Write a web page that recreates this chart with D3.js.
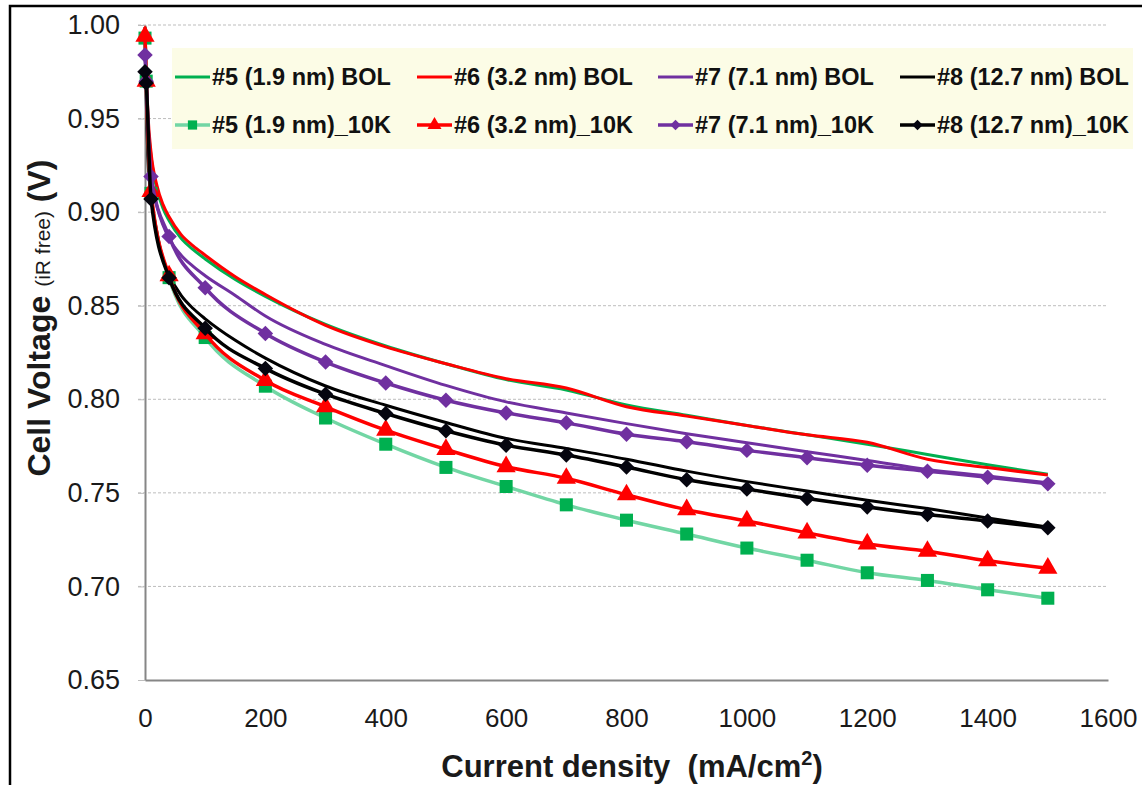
<!DOCTYPE html>
<html>
<head>
<meta charset="utf-8">
<script src="https://d3js.org/d3.v7.min.js"></script>
<style>
  body { margin: 0; background: #fff; }
  text { font-family: "Liberation Sans", Arial, sans-serif; }
</style>
</head>
<body>
<script>
// data

const currentBOL = [0, 5, 10, 20, 30, 40, 60, 80, 100, 150, 200, 300, 400, 500, 600, 700, 800, 900, 1000, 1100, 1200, 1300, 1400, 1500];
const v5BOL = [0.999, 0.949, 0.930, 0.912, 0.902, 0.8955, 0.886, 0.880, 0.875, 0.864, 0.855, 0.840, 0.8285, 0.819, 0.8105, 0.805, 0.797, 0.7915, 0.786, 0.781, 0.776, 0.7705, 0.765, 0.760];
const v6BOL = [0.999, 0.952, 0.932, 0.914, 0.904, 0.8975, 0.888, 0.882, 0.877, 0.8655, 0.856, 0.8395, 0.828, 0.819, 0.811, 0.806, 0.796, 0.791, 0.786, 0.781, 0.777, 0.768, 0.7635, 0.7595];
const v7BOL = [0.995, 0.940, 0.921, 0.903, 0.893, 0.886, 0.877, 0.871, 0.866, 0.8555, 0.8445, 0.8293, 0.818, 0.8074, 0.7986, 0.7927, 0.787, 0.7816, 0.7768, 0.772, 0.7673, 0.7625, 0.759, 0.7554];
const v8BOL = [0.990, 0.928, 0.909, 0.889, 0.8745, 0.8665, 0.8555, 0.8485, 0.843, 0.8315, 0.822, 0.8071, 0.7968, 0.7876, 0.7791, 0.7737, 0.768, 0.7616, 0.756, 0.751, 0.746, 0.7416, 0.7366, 0.7318];

const current10K = [0, 2, 10, 40, 100, 200, 300, 400, 500, 600, 700, 800, 900, 1000, 1100, 1200, 1300, 1400, 1500];
const v5_10K = [0.993, 0.970, 0.910, 0.865, 0.833, 0.807, 0.790, 0.776, 0.7636, 0.7534, 0.7436, 0.7354, 0.728, 0.7205, 0.714, 0.7073, 0.7032, 0.6982, 0.6937];
const v6_10K = [0.994, 0.970, 0.911, 0.866, 0.835, 0.810, 0.796, 0.7835, 0.7732, 0.764, 0.7578, 0.749, 0.741, 0.735, 0.7286, 0.7227, 0.7188, 0.7137, 0.7098];
const v7_10K = [0.984, 0.970, 0.919, 0.887, 0.8596, 0.8352, 0.8199, 0.8087, 0.7995, 0.7927, 0.7874, 0.7813, 0.7773, 0.7727, 0.7688, 0.7648, 0.7616, 0.7584, 0.7548];
const v8_10K = [0.975, 0.969, 0.907, 0.865, 0.838, 0.8165, 0.8027, 0.7924, 0.7832, 0.7755, 0.7702, 0.7638, 0.757, 0.752, 0.747, 0.7425, 0.7384, 0.735, 0.7313];

const seriesNames = ["#5 (1.9 nm) BOL", "#6 (3.2 nm) BOL", "#7 (7.1 nm) BOL", "#8 (12.7 nm) BOL",
  "#5 (1.9 nm)_10K", "#6 (3.2 nm)_10K", "#7 (7.1 nm)_10K", "#8 (12.7 nm)_10K"];

const xTicks = [0, 200, 400, 600, 800, 1000, 1200, 1400, 1600];
const yTicks = [0.65, 0.70, 0.75, 0.80, 0.85, 0.90, 0.95, 1.00];

// chart setup

const w = 1142;
const h = 785;
const m = { top: 25, right: 32, bottom: 105, left: 145 };

const series = [
  { name: seriesNames[0], xs: currentBOL, ys: v5BOL, line: "#00b050", width: 3, marker: null },
  { name: seriesNames[1], xs: currentBOL, ys: v6BOL, line: "#ff0000", width: 3, marker: null },
  { name: seriesNames[2], xs: currentBOL, ys: v7BOL, line: "#7030a0", width: 3, marker: null },
  { name: seriesNames[3], xs: currentBOL, ys: v8BOL, line: "#000000", width: 3, marker: null },
  { name: seriesNames[4], xs: current10K, ys: v5_10K, line: "#72d6a4", width: 3.5, marker: "square", fill: "#00b050" },
  { name: seriesNames[5], xs: current10K, ys: v6_10K, line: "#ff0000", width: 3.5, marker: "triangle", fill: "#ff0000" },
  { name: seriesNames[6], xs: current10K, ys: v7_10K, line: "#7030a0", width: 3.5, marker: "diamond", fill: "#7030a0" },
  { name: seriesNames[7], xs: current10K, ys: v8_10K, line: "#000000", width: 3.5, marker: "diamond", fill: "#05050f" }
];

const svg = d3.select("body").append("svg")
  .attr("width", w)
  .attr("height", h);

svg.append("rect").attr("width", w).attr("height", h).attr("fill", "#fff");

// outer frame (only top and left visible in the crop)
svg.append("rect")
  .attr("x", 10).attr("y", 6)
  .attr("width", w + 50).attr("height", h + 50)
  .attr("fill", "none")
  .attr("stroke", "#000")
  .attr("stroke-width", 2.5);

const x = d3.scaleLinear().domain([0, 1600]).range([m.left, w - m.right - 2]);
const y = d3.scaleLinear().domain([0.65, 1.0]).range([h - m.bottom, m.top]);

// gridlines
svg.append("g")
  .selectAll("line")
  .data(yTicks.slice(1))
  .enter()
  .append("line")
  .attr("x1", x(0) - 7)
  .attr("x2", x(1600))
  .attr("y1", d => y(d))
  .attr("y2", d => y(d))
  .attr("stroke", "#bdbdbd")
  .attr("stroke-width", 1)
  .attr("stroke-dasharray", "3,2");

// axes
const yAxis = d3.axisLeft(y)
  .tickValues(yTicks)
  .tickSize(7)
  .tickSizeOuter(0)
  .tickPadding(18)
  .tickFormat(d3.format(".2f"));

const xAxis = d3.axisBottom(x)
  .tickValues(xTicks)
  .tickSize(0)
  .tickPadding(29)
  .tickFormat(d3.format("d"));

const gy = svg.append("g")
  .attr("transform", "translate(" + x(0) + ",0)")
  .call(yAxis);
gy.select(".domain").attr("stroke", "#868686").attr("stroke-width", 2);
gy.selectAll(".tick line").attr("stroke", "#bdbdbd");
gy.selectAll(".tick text").attr("font-size", 27).attr("fill", "#1a1a1a")
  .attr("font-family", "Liberation Sans, Arial, sans-serif");

const gx = svg.append("g")
  .attr("transform", "translate(0," + y(0.65) + ")")
  .call(xAxis);
gx.select(".domain").attr("stroke", "#868686").attr("stroke-width", 2);
gx.selectAll(".tick text").attr("font-size", 26).attr("fill", "#1a1a1a")
  .attr("font-family", "Liberation Sans, Arial, sans-serif");

// axis titles
const xTitle = svg.append("text")
  .attr("x", 632)
  .attr("y", 777)
  .attr("text-anchor", "middle")
  .attr("font-size", 31)
  .attr("font-weight", "bold")
  .attr("fill", "#1a1a1a")
  .style("white-space", "pre");
xTitle.append("tspan").text("Current density  (mA/cm");
xTitle.append("tspan").attr("font-size", 20).attr("dy", -12).text("2");
xTitle.append("tspan").attr("dy", 12).text(")");

const yTitle = svg.append("text")
  .attr("transform", "translate(50,318) rotate(-90)")
  .attr("text-anchor", "middle")
  .attr("font-weight", "bold")
  .attr("fill", "#1a1a1a")
  .style("white-space", "pre");
yTitle.append("tspan").attr("font-size", 32).text("Cell Voltage ");
yTitle.append("tspan").attr("font-size", 21).attr("font-weight", "normal").text("(iR free)");
yTitle.append("tspan").attr("font-size", 32).text(" (V)");

// lines and markers

const line = d3.line()
  .x(d => x(d[0]))
  .y(d => y(d[1]))
  .curve(d3.curveMonotoneX);

function markerPath(type, big) {
  if (type === "square") return d3.symbol(d3.symbolSquare, big ? 170 : 85)();
  if (type === "triangle") return d3.symbol(d3.symbolTriangle, big ? 160 : 85)();
  return d3.symbol(d3.symbolSquare, big ? 120 : 55)();
}

const plot = svg.append("g");

series.forEach(s => {
  const pts = s.xs.map((v, i) => [v, s.ys[i]]);
  plot.append("path")
    .datum(pts)
    .attr("fill", "none")
    .attr("stroke", s.line)
    .attr("stroke-width", s.width)
    .attr("stroke-linejoin", "round")
    .attr("d", line);

  if (s.marker) {
    plot.append("g")
      .selectAll("path")
      .data(pts)
      .enter()
      .append("path")
      .attr("d", markerPath(s.marker, true))
      .attr("fill", s.fill)
      .attr("transform", d => "translate(" + x(d[0]) + "," + y(d[1]) + ")" + (s.marker === "diamond" ? " rotate(45)" : ""));
  }
});

// legend

const legend = svg.append("g");

legend.append("rect")
  .attr("x", 172).attr("y", 48)
  .attr("width", 961).attr("height", 101)
  .attr("fill", "#fcfce6");

const colX = [175, 417, 658, 900];
const rowY = [77, 125];

series.forEach((s, i) => {
  const lx = colX[i % 4];
  const ly = rowY[Math.floor(i / 4)];
  const item = legend.append("g");
  item.append("line")
    .attr("x1", lx).attr("x2", lx + 35)
    .attr("y1", ly).attr("y2", ly)
    .attr("stroke", s.line)
    .attr("stroke-width", s.width);
  if (s.marker) {
    item.append("path")
      .attr("d", markerPath(s.marker, false))
      .attr("fill", s.fill)
      .attr("transform", "translate(" + (lx + 17.5) + "," + ly + ")" + (s.marker === "diamond" ? " rotate(45)" : ""));
  }
  item.append("text")
    .attr("x", lx + 37)
    .attr("y", ly + 8)
    .attr("font-size", 23.5)
    .attr("font-weight", "bold")
    .attr("fill", "#111")
    .text(s.name);
});
</script>
</body>
</html>
